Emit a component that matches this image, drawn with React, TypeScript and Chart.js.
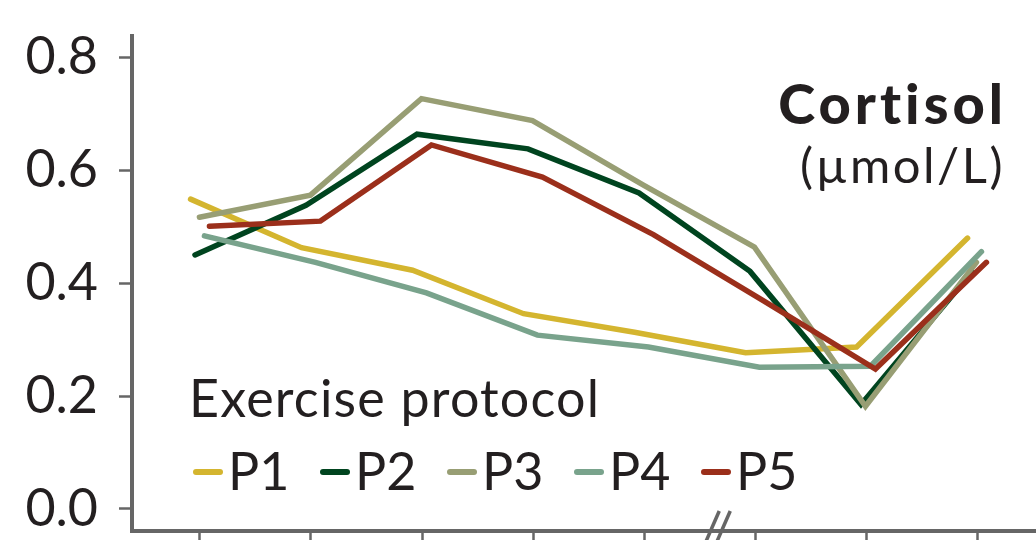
import { useEffect, useRef } from 'react';
import { Chart, registerables } from 'chart.js';

Chart.register(...registerables);

// ---- data ----
const timePoints = [0, 1, 2, 3, 4, 5, 6, 7];
const seriesNames = ['P1', 'P2', 'P3', 'P4', 'P5'];
const p1Values = [0.549, 0.463, 0.423, 0.346, 0.313, 0.277, 0.287, 0.48];
const p2Values = [0.45, 0.538, 0.664, 0.638, 0.56, 0.421, 0.185, 0.42];
const p3Values = [0.517, 0.556, 0.727, 0.688, 0.574, 0.464, 0.182, 0.437];
const p4Values = [0.484, 0.437, 0.383, 0.308, 0.287, 0.251, 0.253, 0.456];
const p5Values = [0.501, 0.51, 0.645, 0.588, 0.486, 0.368, 0.248, 0.437];
const yTickValues = [0, 0.2, 0.4, 0.6, 0.8];
const titleText = 'Cortisol';
const unitText = '(µmol/L)';
const legendTitle = 'Exercise protocol';
const axisBreakAt = 4.65;

// ---- style ----
const seriesColors = ['#D4B52F', '#00441F', '#989E74', '#79A38C', '#9B2F1B'];
const seriesDodge = [-0.085, -0.045, -0.005, 0.04, 0.085];
const TEXT = '#231F20';
const AXIS = '#666666';
const FONT = 'Lato, "Noto Sans", sans-serif';

const allValues = [p1Values, p2Values, p3Values, p4Values, p5Values];

const overlayPlugin = {
  id: 'overlay',
  afterDraw(chart: any) {
    const ctx = chart.ctx as CanvasRenderingContext2D & { letterSpacing?: string };
    const area = chart.chartArea;
    const xs = chart.scales.x;
    ctx.save();

    // axis break "//"
    const bx = xs.getPixelForValue(axisBreakAt);
    const ay = area.bottom;
    ctx.strokeStyle = AXIS;
    ctx.lineWidth = 3.5;
    ctx.lineCap = 'butt';
    for (const off of [-5.5, 5.5]) {
      ctx.beginPath();
      ctx.moveTo(bx + off - 4.5, ay + 10);
      ctx.lineTo(bx + off + 8.6, ay - 20);
      ctx.stroke();
    }

    // title
    ctx.fillStyle = TEXT;
    ctx.textAlign = 'right';
    ctx.textBaseline = 'alphabetic';
    ctx.font = `900 56px ${FONT}`;
    ctx.letterSpacing = '4px';
    ctx.fillText(titleText, chart.width - 29, 124);
    ctx.font = `400 49px ${FONT}`;
    ctx.letterSpacing = '2.5px';
    ctx.fillText(unitText, chart.width - 31, 183);

    // legend
    ctx.textAlign = 'left';
    ctx.font = `400 52px ${FONT}`;
    ctx.letterSpacing = '1.2px';
    ctx.fillText(legendTitle, 189, 417);
    ctx.letterSpacing = '0px';
    seriesNames.forEach((name, i) => {
      const lx = 193 + 127 * i;
      ctx.strokeStyle = seriesColors[i];
      ctx.lineWidth = 6;
      ctx.lineCap = 'round';
      ctx.beginPath();
      ctx.moveTo(lx + 3, 472);
      ctx.lineTo(lx + 27, 472);
      ctx.stroke();
      ctx.fillStyle = TEXT;
      ctx.fillText(name, lx + 35, 490);
    });
    ctx.restore();
  },
};

export default function App() {
  const canvasRef = useRef<HTMLCanvasElement | null>(null);

  useEffect(() => {
    document.body.style.margin = '0';
    const canvas = canvasRef.current;
    if (!canvas) return;

    const datasets = seriesNames.map((name, s) => ({
      label: name,
      data: timePoints.map((t, i) => ({ x: t + seriesDodge[s], y: allValues[s][i] })),
      borderColor: seriesColors[s],
      backgroundColor: seriesColors[s],
      borderWidth: 5.5,
      borderCapStyle: 'round' as const,
      borderJoinStyle: 'miter' as const,
      pointRadius: 0,
      tension: 0,
      fill: false,
      order: seriesNames.length - s,
    }));

    const chart = new Chart(canvas, {
      type: 'line',
      data: { datasets },
      plugins: [overlayPlugin],
      options: {
        animation: false,
        responsive: false,
        devicePixelRatio: 1,
        layout: { padding: { top: 36, left: 0, right: 0, bottom: 0 } },
        plugins: { legend: { display: false }, tooltip: { enabled: false } },
        scales: {
          x: {
            type: 'linear',
            min: -0.6126,
            max: 7.5315,
            afterBuildTicks: (scale: any) => {
              scale.ticks = timePoints.map((v) => ({ value: v }));
            },
            afterFit: (scale: any) => {
              scale.height = 9;
              scale.paddingLeft = 0;
              scale.paddingRight = 0;
              scale.paddingTop = 0;
              scale.paddingBottom = 0;
            },
            ticks: { callback: () => '', padding: 0 },
            grid: {
              drawOnChartArea: false,
              drawTicks: true,
              tickLength: 12,
              tickWidth: 2.5,
              tickColor: AXIS,
            },
            border: { display: true, color: AXIS, width: 4 },
          },
          y: {
            type: 'linear',
            min: -0.039,
            max: 0.838,
            afterBuildTicks: (scale: any) => {
              scale.ticks = yTickValues.map((v) => ({ value: v }));
            },
            afterFit: (scale: any) => {
              scale.width = 132;
              scale.paddingLeft = 0;
              scale.paddingRight = 0;
              scale.paddingTop = 0;
              scale.paddingBottom = 0;
            },
            ticks: {
              callback: (v: any) => Number(v).toFixed(1),
              color: TEXT,
              font: { family: FONT, size: 52 },
              padding: 21,
            },
            grid: {
              drawOnChartArea: false,
              drawTicks: true,
              tickLength: 13,
              tickWidth: 2.5,
              tickColor: AXIS,
            },
            border: { display: true, color: AXIS, width: 4 },
          },
        },
      },
    });

    return () => chart.destroy();
  }, []);

  return (
    <div style={{ width: 1036, height: 540, background: '#fff' }}>
      <canvas ref={canvasRef} width={1036} height={540} style={{ display: 'block' }} />
    </div>
  );
}
